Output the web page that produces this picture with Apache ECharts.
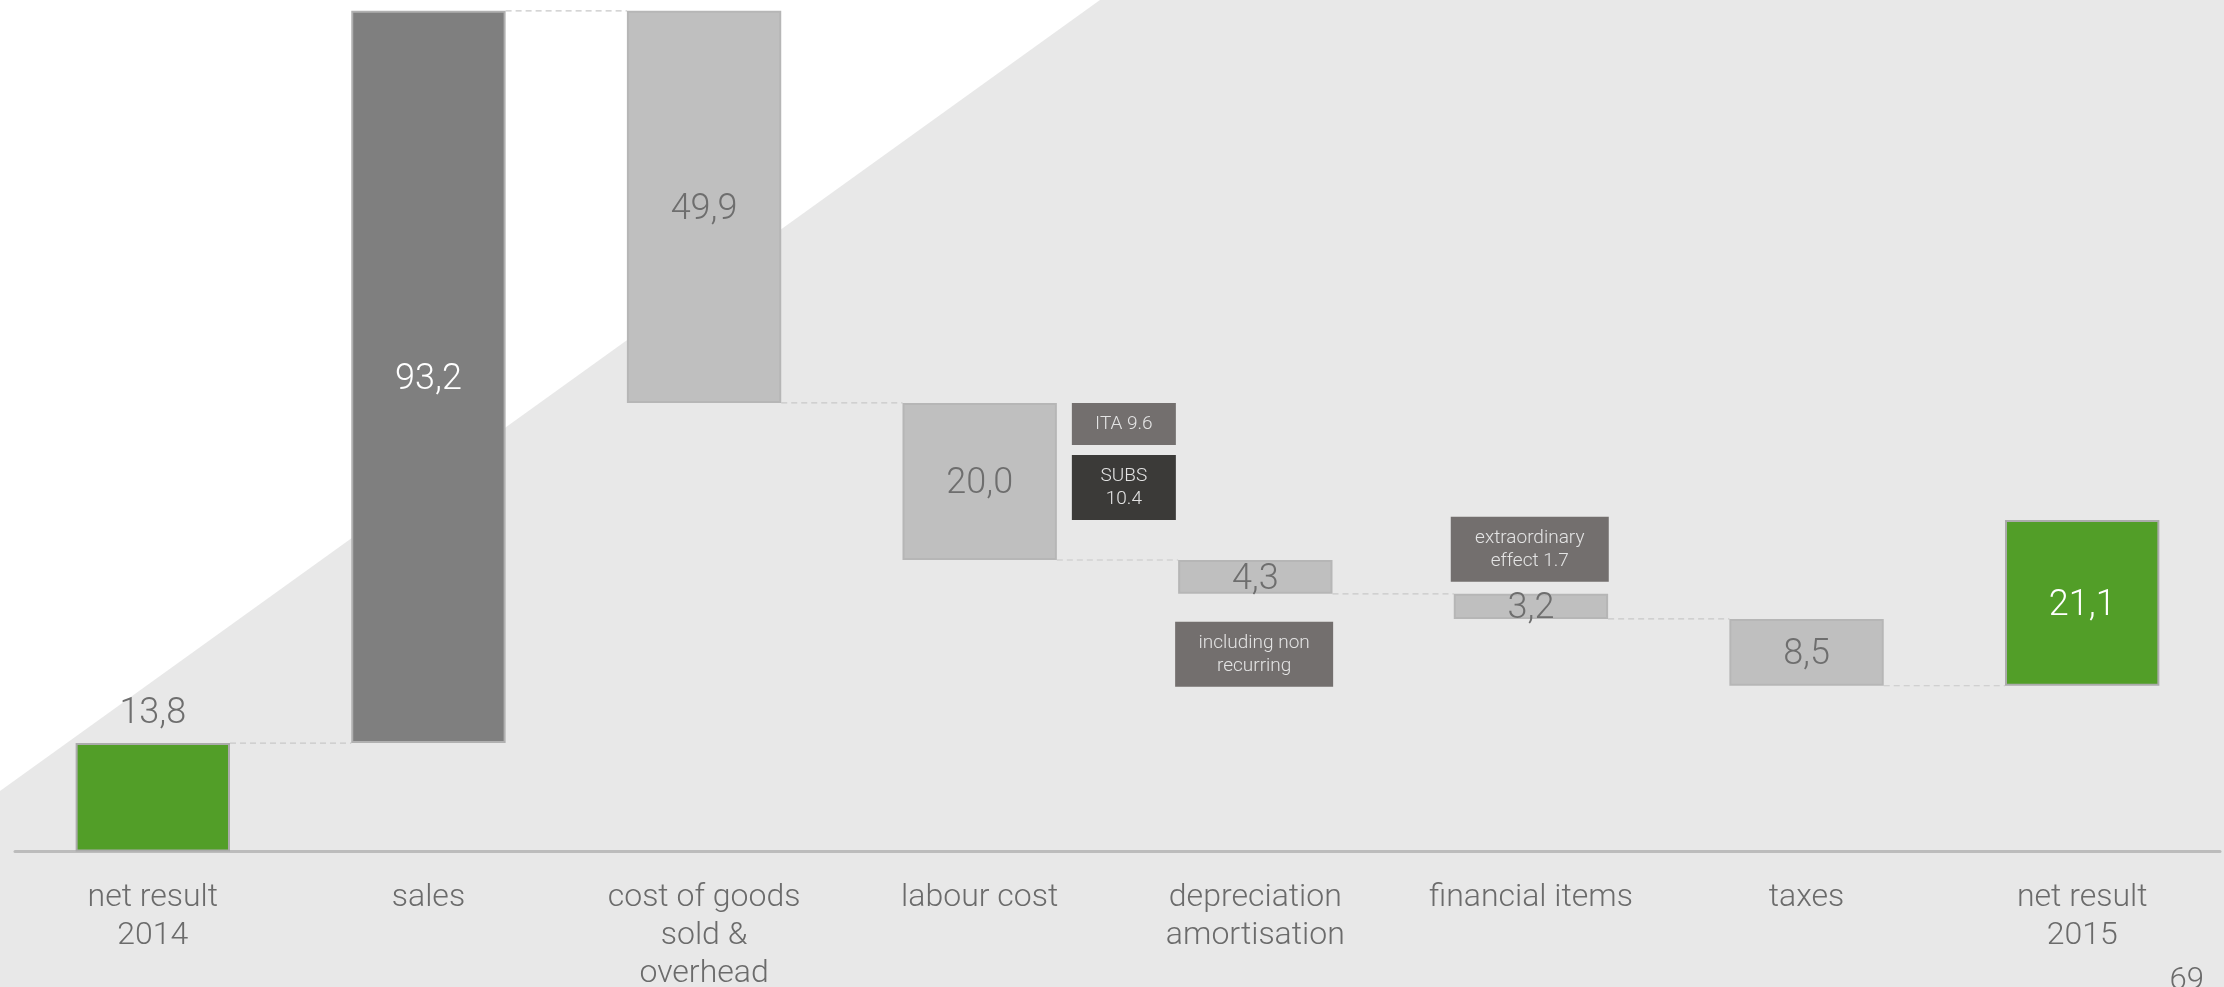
<!DOCTYPE html>
<html>
<head>
<meta charset="utf-8">
<script src="https://cdn.jsdelivr.net/npm/echarts@6/dist/echarts.min.js"></script>
<style>
  html, body { margin: 0; padding: 0; background: #e8e8e8; }
  #chart { width: 2224px; height: 987px; }
</style>
</head>
<body>
<div id="chart"></div>
<script>
// ---- data ----
const categories = ['net result\n2014', 'sales', 'cost of goods\nsold &\noverhead', 'labour cost',
                    'depreciation\namortisation', 'financial items', 'taxes', 'net result\n2015'];
const values = [13.8, 93.2, 49.9, 20.0, 4.3, 3.2, 8.5, 21.1];
const kinds = ['start', 'up', 'down', 'down', 'down', 'down', 'down', 'end'];
const annotationTexts = ['ITA 9.6', 'SUBS\n10.4', 'including non\nrecurring', 'extraordinary\neffect 1.7'];
const pageNumber = '69';

// ---- derived waterfall geometry (values only) ----
const bases = [];
const levels = [];
let running = 0;
values.forEach((v, i) => {
  const k = kinds[i];
  if (k === 'start') { bases.push(0); running = v; }
  else if (k === 'up') { bases.push(running); running += v; }
  else if (k === 'down') { running -= v; bases.push(running); }
  else { bases.push(running); }
  levels.push(running);
});
const connectors = [];
for (let i = 0; i < values.length - 1; i++) connectors.push([i, levels[i]]);

// ---- styles ----
const FONT = 'Roboto';
const styleByKind = {
  start: { color: '#529e28', border: '#ababab', label: '#6e6e6e', pos: 'top', dist: 14 },
  up:    { color: '#7f7f7f', border: '#b0b0b0', label: '#ffffff', pos: 'inside', dist: 5 },
  down:  { color: '#bfbfbf', border: '#b6b6b6', label: '#6e6e6e', pos: 'inside', dist: 5 },
  end:   { color: '#529e28', border: '#ababab', label: '#ffffff', pos: 'inside', dist: 5 }
};
const fmt = v => v.toFixed(1).replace('.', ',');

const barData = values.map((v, i) => {
  const s = styleByKind[kinds[i]];
  return {
    value: v,
    itemStyle: { color: s.color, borderColor: s.border, borderWidth: 2 },
    label: { position: s.pos, color: s.label, distance: s.dist }
  };
});

const chart = echarts.init(document.getElementById('chart'), null, { renderer: 'canvas' });

chart.setOption({
  backgroundColor: '#e8e8e8',
  animation: false,
  grid: { left: 15, right: 4, top: 3, height: 848.5, containLabel: false, outerBoundsMode: 'none' },
  xAxis: {
    type: 'category',
    data: categories,
    axisLine: { show: true, lineStyle: { color: '#bcbcbc', width: 3 } },
    axisTick: { show: false },
    axisLabel: {
      interval: 0, margin: 27, fontFamily: FONT, fontWeight: 300,
      fontSize: 32, lineHeight: 38, color: '#6b6b6b'
    },
    splitLine: { show: false }
  },
  yAxis: {
    type: 'value', min: 0, max: 108,
    show: false,
    splitLine: { show: false }
  },
  graphic: [
    {
      type: 'polygon', z: -10, silent: true,
      shape: { points: [[0, 0], [1100, 0], [0, 791]] },
      style: { fill: '#ffffff' }
    },
    {
      type: 'text', right: 20, top: 966, silent: true,
      style: { text: pageNumber, font: '300 31px Roboto', fill: '#6b6b6b' }
    }
  ],
  series: [
    {
      name: 'base', type: 'bar', stack: 'wf', barWidth: '56%',
      data: bases,
      itemStyle: { color: 'transparent', borderWidth: 0 },
      silent: true, z: 2
    },
    {
      name: 'value', type: 'bar', stack: 'wf', barWidth: '56%',
      data: barData,
      label: {
        show: true, fontFamily: FONT, fontWeight: 300, fontSize: 36,
        offset: [0, 3],
        formatter: p => fmt(p.value)
      },
      z: 3
    },
    {
      name: 'connectors', type: 'custom',
      data: connectors, encode: { x: 0, y: 1 }, z: 1, silent: true,
      renderItem: (params, api) => {
        const p = api.coord([api.value(0), api.value(1)]);
        const band = api.size([1, 0])[0];
        const bw = band * 0.56;
        return {
          type: 'line',
          shape: { x1: p[0] + bw / 2, y1: p[1], x2: p[0] + band - bw / 2, y2: p[1] },
          style: { stroke: '#c8c8c8', lineWidth: 1.2, lineDash: [6, 4] }
        };
      }
    }
  ]
});

// ---- annotation boxes anchored to the bars ----
function addAnnotations() {
  const xAxisModel = chart.getModel().getComponent('xAxis', 0);
  const band = xAxisModel.axis.getBandWidth();
  const bw = band * 0.56;
  const px = (i, v) => chart.convertToPixel({ gridIndex: 0 }, [i, v]);

  const labourTop = px(3, levels[2]);
  const depBottom = px(4, levels[4]);
  const finTop = px(5, levels[4]);

  const boxes = [
    { text: annotationTexts[0], x: labourTop[0] + bw / 2 + 15, y: labourTop[1], w: 104, h: 42, fill: '#736f6e' },
    { text: annotationTexts[1], x: labourTop[0] + bw / 2 + 15, y: labourTop[1] + 52, w: 104, h: 65, fill: '#3b3a38' },
    { text: annotationTexts[2], x: depBottom[0] - bw / 2 - 3, y: depBottom[1] + 28, w: 158, h: 65, fill: '#736f6e' },
    { text: annotationTexts[3], x: finTop[0] - bw / 2 - 3, y: finTop[1] - 12 - 65, w: 158, h: 65, fill: '#736f6e' }
  ];
  const graphics = chart.getOption().graphic[0].elements.slice();
  const extra = [];
  boxes.forEach(b => {
    extra.push({
      type: 'rect', z: 5, silent: true,
      shape: { x: b.x, y: b.y, width: b.w, height: b.h },
      style: { fill: b.fill }
    });
    extra.push({
      type: 'text', z: 6, silent: true,
      x: b.x + b.w / 2, y: b.y + b.h / 2,
      style: {
        text: b.text, fill: '#e4e4e4', font: '300 19px Roboto',
        align: 'center', verticalAlign: 'middle', lineHeight: 23
      }
    });
  });
  chart.setOption({ graphic: graphics.concat(extra) }, { replaceMerge: ['graphic'] });
}
addAnnotations();
</script>
</body>
</html>
